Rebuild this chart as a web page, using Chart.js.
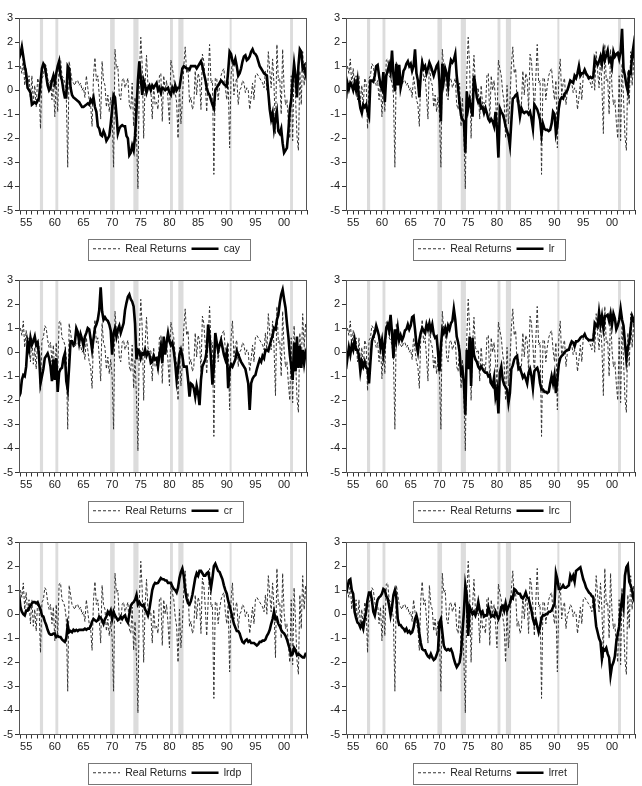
<!DOCTYPE html>
<html>
<head>
<meta charset="utf-8">
<script src="https://cdn.jsdelivr.net/npm/chart.js@4.4.0/dist/chart.umd.min.js"></script>
<style>
  html, body { margin: 0; padding: 0; background: #fff; }
  #wrap { position: relative; width: 642px; height: 786px; }
  .panel { position: absolute; width: 321px; height: 262px; }
</style>
</head>
<body>
<div id="wrap">
  <div class="panel" style="left:0;top:0"><canvas id="c1" width="321" height="262"></canvas></div>
  <div class="panel" style="left:321px;top:0"><canvas id="c2" width="321" height="262"></canvas></div>
  <div class="panel" style="left:0;top:262px"><canvas id="c3" width="321" height="262"></canvas></div>
  <div class="panel" style="left:321px;top:262px"><canvas id="c4" width="321" height="262"></canvas></div>
  <div class="panel" style="left:0;top:524px"><canvas id="c5" width="321" height="262"></canvas></div>
  <div class="panel" style="left:321px;top:524px"><canvas id="c6" width="321" height="262"></canvas></div>
</div>
<script>
// quarterly observations, first one is 1953Q4, last one 2004Q1
const START = 1953.75;

const realReturns = [0.8,
  1.0, 0.7, 1.3, 0.2,  0.9, 0.1, 0.6, -0.4,  0.6, -0.5, 0.2, -0.7,  0.5, 0.3, -1.6, 0.5,
  0.6, 1.1, 1.0, 0.5,  0.2, 0.4, -0.4, 0.3,  -1.1, 0.4, -0.9, 1.25,  1.3, 0.6, 0.5, 0.3,
  -0.2, -3.2, 1.2, 0.8,  0.4, 0.3, 0.2, 0.4,  0.4, 0.2, 0.3, 0.0,  0.1, -0.3, 0.6, 0.1,
  -0.4, -0.6, -1.5, 0.6,  1.35, 0.4, 0.6, -0.2,  -1.2, 1.2, 0.4, 0.2,  -0.7, -0.2, -0.9, -0.3,
  -1.0, -3.2, 1.7, 0.9,  1.0, -0.2, -0.4, 0.4,  0.5, 0.1, 0.3, 0.5,  -0.6, -0.8, 0.3, -1.5,
  -0.3, -1.9, -4.1, 0.6,  2.2, 1.0, -2.0, 0.3,  1.45, 0.2, 0.0, 0.1,  -1.2, 0.2, -0.6, -0.5,
  -0.8, 0.6, 0.7, -1.3,  0.6, 0.0, 0.4, -0.4,  -1.4, 1.25, 0.9, 0.6,  -0.1, -0.5, -2.0, 0.2,
  -1.4, -0.5, 1.0, 1.8,  0.7, 0.9, -0.5, -0.3,  -0.8, -0.6, 0.8, -0.2,  0.7, 0.5, -0.8, 1.5,
  1.2, 0.3, -0.9, 0.5,  1.9, 0.3, 0.4, -3.5,  0.5, 0.5, -0.4, 0.2,  0.6, 0.8, 0.9, 0.1,
  -0.4, 0.4, -2.4, 0.6,  1.3, -0.2, 0.3, 0.5,  -0.6, 0.0, 0.1, 0.4,  0.3, -0.1, 0.1, 0.0,
  -0.8, -0.3, 0.3, -0.4,  0.6, 0.7, 0.6, 0.5,  0.4, 0.3, 0.1, 0.8,  0.0, 1.6, 0.8, 0.1,
  1.3, 0.2, -1.8, 1.9,  0.4, 0.5, -1.0, 1.7,  0.1, -0.6, -0.4, -1.3,  -2.0, 0.6, -2.1, 1.1,
  -0.3, -1.9, -2.5, 0.8,  -0.6, 1.6, 0.2, 1.2,
  0.1];

const cay = [1.3,
  1.5, 1.8, 1.4, 1.0,  0.7, 0.1, 0.0, -0.1,  -0.6, -0.55, -0.5, -0.55,  -0.45, -0.3, 0.3, 0.9,
  1.1, 1.0, 0.6, 0.2,  0.0, 0.1, 0.4, 0.6,  0.3, 0.7, 1.0, 1.2,  0.6, 0.4, 0.0, -0.3,
  -0.3, 1.0, 0.9, 0.1,  -0.2, -0.3, -0.35, -0.4,  -0.45, -0.5, -0.6, -0.7,  -0.7, -0.65, -0.6, -0.55,
  -0.6, -0.4, -0.5, -0.3,  -0.7, -0.9, -1.5, -1.6,  -1.85, -1.9, -1.7, -1.85,  -2.1, -2.0, -1.9, -1.4,
  -0.8, -0.2, -0.3, -1.0,  -1.8, -1.6, -1.5, -1.45,  -1.5, -1.5, -1.9, -2.0,  -2.7, -2.6, -2.3, -2.5,
  -1.9, -0.8, 0.4, 1.2,  0.5, -0.2, 0.4, 0.2,  -0.1, 0.1, 0.2, 0.0,  0.2, 0.1, 0.2, 0.3,
  0.0, 0.1, -0.1, 0.1,  0.05, 0.0, 0.05, 0.1,  -0.1, -0.2, 0.1, -0.05,  0.2, 0.0, 0.1, 0.1,
  0.5, 0.9, 1.0, 0.95,  0.9, 0.9, 0.85, 1.0,  1.0, 1.0, 1.0, 0.9,  1.0, 1.1, 1.2, 1.0,
  0.7, 0.45, 0.1, -0.1,  -0.2, -0.4, -0.6, -0.75,  0.0, 0.1, 0.2, 0.3,  0.4, 0.35, 0.25, 0.2,
  0.15, 0.8, 1.6, 1.5,  1.2, 1.1, 1.3, 1.0,  0.6, 0.7, 0.9, 1.2,  1.4, 1.45, 1.25, 1.3,
  1.4, 1.6, 1.7, 1.55,  1.5, 1.4, 1.2, 1.0,  0.9, 0.8, 0.7, 0.65,  0.6, -0.1, -0.8, -1.2,
  -0.95, -1.6, -1.2, -0.9,  -1.7, -1.8, -1.6, -2.2,  -2.6, -2.5, -2.4, -1.7,  -0.8, -0.4, 0.4, 1.1,
  0.6, -0.3, 1.0, 1.7,  1.6, 0.9, 1.0, 0.7,
  0.4];

const lr = [-0.35,
  0.3, 0.05, 0.3, 0.2,  0.0, 0.3, 0.0, 0.4,  -0.35, -0.75, -0.95, -0.6,  -0.7, -0.6, -0.9, -1.1,
  0.4, 0.4, 0.35, 0.6,  1.0, 1.05, 0.6, 0.2,  0.05, 0.75, -0.5, 0.6,  0.8, 1.05, 0.75, 1.65,
  0.6, -0.05, 1.1, 0.2,  1.05, 0.1, 0.4, 0.8,  0.9, 1.1, 1.2, 1.0,  1.1, 0.8, 1.0, 1.7,
  0.7, 0.4, -0.3, 0.6,  1.15, 0.9, 1.0, 0.7,  0.9, 1.15, 1.0, 0.8,  0.6, 0.8, 1.0, 1.1,
  0.35, -1.3, 1.1, 0.4,  0.9, 0.7, 0.2, 0.9,  1.25, 1.15, 1.25, 1.5,  0.6, 0.05, -0.55, -1.05,
  -1.2, -1.3, -2.6, -0.05,  -0.75, -0.4, -0.7, -1.1,  0.6, 0.2, -0.3, -0.5,  -0.4, -0.75, -0.7, -0.95,
  -0.75, -0.95, -1.2, -1.3,  -1.2, -1.3, -1.5, -0.9,  -1.6, -2.8, -0.75, -0.9,  -1.0, -1.2, -1.5, -1.7,
  -1.9, -2.3, -1.3, -0.35,  -0.3, -0.2, -0.15, -0.6,  -1.1, -0.75, -0.9, -0.95,  -0.9, -0.9, -1.0, -0.9,
  -1.2, -1.6, -0.6, -0.7,  -0.8, -1.0, -1.25, -1.85,  -1.4, -1.6, -1.65, -1.65,  -1.7, -1.65, -1.4, -0.9,
  -1.0, -1.8, -1.5, -0.75,  -0.4, -0.3, -0.35, -0.15,  -0.1, 0.0, 0.2, 0.4,  0.35, 0.3, 0.6, 0.5,
  0.7, 1.0, 0.6, 0.7,  0.7, 0.85, 0.7, 0.6,  0.5, 0.55, 0.5, 0.55,  1.3, 1.15, 1.05, 1.2,
  1.4, 1.1, 1.6, 1.25,  1.45, 1.65, 1.2, 1.3,  1.0, 1.6, 1.4, 1.5,  1.55, 1.3, 1.6, 2.55,
  0.9, 0.6, 0.2, -0.05,  0.75, 0.7, 1.45, 1.85,
  1.2];

const cr = [-1.85,
  -1.7, -1.15, -0.95, -1.0,  -0.6, 0.4, 0.1, 0.6,  0.3, 0.45, 0.65, 0.3,  0.4, -0.15, -1.3, -1.0,
  -0.7, -0.25, -0.15, -0.05,  -0.25, -0.6, -1.2, -0.3,  -1.15, -0.25, -1.65, -0.85,  -0.7, -0.65, -0.25, -0.05,
  -1.2, -1.55, -0.6, 0.45,  0.45, 0.3, 0.4, 1.0,  0.85, 0.4, 0.75, 0.55,  0.25, 0.65, 0.8, 1.0,
  0.95, 0.55, 0.1, 0.55,  1.0, 1.15, 1.35, 1.75,  2.7, 1.7, 1.35, 1.45,  1.35, 1.3, 1.15, 0.9,
  -0.1, 0.8, 1.0, 0.65,  0.95, 1.1, 0.8, 1.0,  1.2, 1.75, 2.05, 2.3,  2.4, 2.2, 2.1, 1.9,
  1.2, -0.3, 0.1, 0.05,  -0.25, -0.05, -0.1, 0.1,  -0.15, 0.0, -0.1, -0.45,  -0.4, -0.15, -0.3, -0.25,
  -0.6, -0.1, 0.25, -0.45,  0.65, -0.1, 0.4, 0.8,  0.45, 0.3, 0.4, 0.05,  -0.45, -1.15, -0.7, -0.1,
  0.1, -0.15, -0.6, -0.6,  -0.6, -1.15, -1.85, -1.3,  -1.35, -1.5, -1.85, -1.4,  -1.7, -2.2, -1.15, -0.6,
  -0.45, -0.3, 0.05, 1.15,  0.65, -0.3, -1.35, -0.6,  0.8, 0.4, 0.05, 0.3,  0.5, 0.2, -0.1, -0.3,
  0.0, -1.5, -0.7, -0.5,  -0.6, -0.45, -0.3, 0.05,  -0.1, -0.25, -0.4, -0.5,  -0.6, -0.7, -1.0, -1.3,
  -2.4, -1.3, -1.1, -1.0,  -0.95, -0.7, -0.5, -0.3,  -0.4, -0.15, -0.25, 0.1,  0.1, 0.05, 0.3, 0.5,
  0.7, 1.0, 0.95, 1.35,  1.55, 2.05, 2.4, 2.6,  2.2, 1.85, 1.2, 0.65,  -0.1, -0.6, -1.15, 0.4,
  -0.8, 0.65, -0.65, 0.25,  -0.65, 0.1, -0.45, 0.0,
  -0.15];

const lrc = [-0.7,
  -0.25, 0.2, -0.1, 0.3,  0.1, 0.5, 0.1, 0.1,  -0.15, -0.8, -0.4, -0.6,  -0.4, -0.65, -0.7, -1.3,
  -0.4, 0.45, 0.65, 0.8,  1.1, 0.9, 0.65, 0.2,  0.5, -0.1, 0.35, 1.0,  1.15, 0.9, 1.55, 0.8,
  -0.25, 0.95, 0.5, 1.0,  0.5, 0.7, 0.5, 0.65,  0.9, 0.95, 1.15, 0.95,  1.1, 1.45, 1.5, 0.95,
  0.3, 0.0, 0.5, 0.8,  1.0, 0.9, 0.8, 1.15,  0.95, 1.2, 0.9, 1.15,  0.75, 0.6, 0.65, 0.0,
  -0.8, 0.25, 0.95, 0.8,  1.0, 0.75, 1.1, 0.95,  1.2, 1.3, 1.8, 1.35,  0.65, 0.4, 0.0, -0.85,
  -0.7, -1.3, -2.6, 0.1,  -0.7, 0.65, -1.4, 0.6,  -0.1, -0.3, -0.4, -0.6,  -0.7, -0.6, -0.7, -0.8,
  -0.85, -0.85, -1.0, -0.95,  -1.3, -1.4, -1.05, -1.85,  -1.55, -2.55, -0.85, -0.6,  -1.15, -1.35, -1.45, -1.55,
  -2.1, -1.7, -0.7, -0.55,  -0.3, -0.2, -0.15, -0.7,  -0.65, -0.85, -1.05, -0.95,  -1.1, -1.3, -0.85, -0.7,
  -1.0, -1.5, -0.8, -0.7,  -0.65, -0.85, -1.3, -1.55,  -1.55, -1.65, -1.65, -1.7,  -1.65, -1.3, -1.0, -1.3,
  -0.95, -1.7, -1.15, -0.5,  -0.25, -0.15, -0.1, 0.0,  0.05, 0.1, 0.1, 0.3,  0.45, 0.4, 0.25, 0.45,
  0.45, 0.5, 0.6, 0.65,  0.65, 0.75, 0.6, 0.55,  0.5, 0.5, 0.5, 0.5,  1.2, 1.1, 1.05, 1.65,
  1.15, 1.5, 1.0, 1.5,  1.5, 1.55, 1.3, 1.6,  1.15, 1.6, 1.4, 0.95,  1.1, 1.35, 1.8, 1.35,
  1.1, 0.4, -0.3, 0.2,  0.4, 1.0, 1.5, 1.35,
  1.15];

const lrdp = [0.85,
  0.3, 0.1, 0.0, -0.05,  0.15, 0.15, 0.25, 0.35,  0.45, 0.5, 0.5, 0.45,  0.5, 0.35, 0.2, -0.05,
  -0.1, -0.3, -0.45, -0.65,  -0.8, -0.85, -0.85, -0.8,  -0.8, -0.95, -0.9, -0.95,  -0.95, -1.05, -1.1, -1.15,
  -1.0, -0.45, -0.75, -0.7,  -0.75, -0.65, -0.7, -0.65,  -0.7, -0.65, -0.65, -0.65,  -0.65, -0.6, -0.65, -0.6,
  -0.6, -0.5, -0.3, -0.2,  -0.25, -0.3, -0.25, -0.1,  -0.15, -0.25, -0.4, -0.2,  -0.1, 0.1, 0.0, 0.15,
  -0.2, 0.1, -0.05, -0.15,  -0.25, -0.2, -0.1, -0.2,  -0.1, -0.05, -0.25, -0.35,  0.0, 0.35, 0.45, 0.5,
  0.6, 0.8, 0.4, 0.5,  0.4, 0.35, 0.4, 0.2,  0.1, -0.05, 0.2, 0.6,  1.0, 1.2, 1.3, 1.28,
  1.3, 1.4, 1.5, 1.45,  1.45, 1.4, 1.4, 1.3,  1.3, 1.3, 1.15, 1.05,  1.0, 0.9, 1.1, 1.5,
  1.75, 1.9, 1.6, 1.0,  0.65, 0.45, 0.4, 0.55,  0.8, 1.15, 1.5, 1.7,  1.6, 1.8, 1.8, 1.7,
  1.6, 1.6, 1.7, 1.75,  1.45, 1.1, 1.5, 2.0,  2.1, 1.95, 1.8, 1.75,  1.6, 1.45, 1.2, 1.0,
  0.85, 0.55, 0.35, 0.1,  -0.15, -0.4, -0.55, -0.7,  -0.7, -0.8, -1.0, -1.15,  -1.2, -1.1, -1.05, -1.15,
  -1.1, -1.2, -1.2, -1.2,  -1.25, -1.3, -1.25, -1.15,  -1.15, -1.1, -1.1, -1.05,  -0.9, -0.8, -0.65, -0.4,
  -0.2, 0.1, -0.2, -0.15,  -0.4, -0.5, -0.65, -0.75,  -0.8, -0.9, -1.05, -1.25,  -1.45, -1.7, -1.65, -1.4,
  -1.5, -1.7, -1.65, -1.7,  -1.75, -1.8, -1.8, -1.65,
  -1.65];

const lrret = [0.85,
  1.1, 1.4, 1.45, 1.0,  0.85, 0.1, -0.15, -0.35,  -0.4, -0.55, -0.4, -0.6,  -0.2, 0.1, 0.6, 0.9,
  0.9, 0.6, 0.1, -0.05,  0.3, 0.6, 0.7, 0.75,  0.85, 1.05, 1.0, 0.75,  0.65, 0.35, -0.05, 0.3,
  0.8, 1.0, 0.7, -0.2,  -0.45, -0.45, -0.55, -0.6,  -0.7, -0.6, -0.75, -0.7,  -0.8, -0.75, -0.55, -0.2,
  -0.05, -0.3, -0.8, -1.2,  -1.45, -1.5, -1.5, -1.65,  -1.75, -1.8, -1.65, -1.8,  -1.9, -1.85, -1.7, -1.5,
  -0.35, -0.2, -0.75, -1.3,  -1.45, -1.5, -1.45, -1.5,  -1.45, -1.6, -1.85, -2.05,  -2.2, -2.1, -2.0, -1.6,
  -0.75, 0.1, 1.2, 0.8,  -0.9, 0.3, 0.15, 0.0,  0.1, -0.05, 0.15, 0.5,  0.15, 0.0, 0.1, -0.1,
  -0.05, -0.05, 0.3, 0.1,  -0.1, -0.05, -0.1, 0.1,  -0.05, -0.2, -0.05, 0.3,  0.35, 0.15, 0.45, 0.15,
  0.3, 0.45, 0.7, 0.65,  1.05, 1.0, 0.9, 0.85,  0.85, 0.7, 0.65, 0.75,  0.9, 0.7, 0.65, 0.4,
  0.15, -0.2, -0.4, -0.25,  -0.5, -0.75, -0.5, -0.15,  -0.05, -0.05, 0.0, 0.0,  0.1, 0.1, 0.15, 0.3,
  0.4, 1.7, 1.45, 1.05,  1.05, 1.1, 1.2, 1.1,  1.1, 1.15, 1.2, 1.6,  1.45, 1.6, 1.35, 1.8,
  1.85, 1.9, 1.95, 1.7,  1.45, 1.3, 1.1, 1.0,  0.9, 0.85, 0.75, 0.7,  0.1, -0.5, -0.75, -1.0,
  -1.15, -1.85, -1.45, -1.5,  -1.4, -1.65, -1.8, -2.55,  -2.15, -2.0, -1.75, -1.15,  -0.8, -0.5, 0.2, 0.65,
  0.3, 1.6, 1.95, 2.05,  1.35, 1.2, 1.0, 0.65,
  0.5];

// shaded recession periods
const recessions = [
  [1957.4, 1957.95], [1960.1, 1960.6], [1969.65, 1970.45], [1973.7, 1974.6],
  [1980.1, 1980.6], [1981.55, 1982.45], [1990.5, 1990.85], [2001.05, 2001.55]
];
const labelYears = [1955, 1960, 1965, 1970, 1975, 1980, 1985, 1990, 1995, 2000];

const quarters = realReturns.map((_, i) => START + i * 0.25);

const panels = [
  { id: 'c1', name: 'cay', values: cay, col: 0 },
  { id: 'c2', name: 'lr', values: lr, col: 1 },
  { id: 'c3', name: 'cr', values: cr, col: 0 },
  { id: 'c4', name: 'lrc', values: lrc, col: 1 },
  { id: 'c5', name: 'lrdp', values: lrdp, col: 0 },
  { id: 'c6', name: 'lrret', values: lrret, col: 1 }
];

const font = { family: 'Arial, "Liberation Sans", sans-serif', size: 11 };
const legendFont = { family: 'Arial, "Liberation Sans", sans-serif', size: 10.5 };
const ink = '#222';

function makePlugin(dx, dy) {
  return {
    id: 'frameBands',
    afterLayout(chart) {
      const lg = chart.legend;
      lg.left += dx; lg.right += dx;
      lg.top += dy; lg.bottom += dy;
    },
    beforeDatasetsDraw(chart) {
      const { ctx, chartArea: a, scales: { x } } = chart;
      ctx.save();
      ctx.fillStyle = '#dcdcdc';
      recessions.forEach(([s, e]) => {
        const x0 = x.getPixelForValue(s);
        const x1 = x.getPixelForValue(e);
        ctx.fillRect(x0, a.top, x1 - x0, a.bottom - a.top);
      });
      ctx.restore();
    },
    afterDraw(chart) {
      const { ctx, chartArea: a } = chart;
      ctx.save();
      ctx.strokeStyle = '#555';
      ctx.lineWidth = 1;
      ctx.strokeRect(Math.round(a.left) + 0.5, Math.round(a.top) + 0.5,
        Math.round(a.right - a.left) - 1, Math.round(a.bottom - a.top) - 1);
      // frame around the legend
      const hb = chart.legend.legendHitBoxes;
      const l = Math.min(...hb.map(h => h.left)) - 5;
      const r = Math.max(...hb.map(h => h.left + h.width)) + 10;
      const t = Math.min(...hb.map(h => h.top)) - 5;
      const b = Math.max(...hb.map(h => h.top + h.height)) + 5;
      ctx.strokeStyle = '#777';
      ctx.strokeRect(Math.round(l) + 0.5, Math.round(t) + 0.5, Math.round(r - l), Math.round(b - t));
      ctx.restore();
    }
  };
}

// legend samples take their dash and width from the line, not from the points
function legendLabels(chart) {
  const items = Chart.defaults.plugins.legend.labels.generateLabels(chart);
  items.forEach(it => {
    const ds = chart.data.datasets[it.datasetIndex];
    it.lineDash = ds.borderDash || [];
    it.lineWidth = ds.borderWidth;
    it.strokeStyle = ds.borderColor;
    it.pointStyle = 'line';
  });
  return items;
}

panels.forEach(p => {
  const yWidth = p.col === 0 ? 19 : 25;
  const padRight = p.col === 0 ? 14 : 7;
  new Chart(document.getElementById(p.id), {
    type: 'line',
    data: {
      labels: quarters,
      datasets: [
        {
          label: 'Real Returns',
          data: realReturns,
          borderColor: '#333',
          borderWidth: 1,
          borderDash: [3, 2],
          pointRadius: 0,
          tension: 0,
          order: 1
        },
        {
          label: p.name,
          data: p.values,
          borderColor: '#000',
          borderWidth: 2.6,
          pointRadius: 0,
          tension: 0,
          order: 0
        }
      ]
    },
    options: {
      responsive: false,
      animation: false,
      devicePixelRatio: 1,
      events: [],
      layout: { padding: { top: 18, right: padRight, left: 0, bottom: 0 } },
      scales: {
        x: {
          type: 'linear',
          min: 1953.75,
          max: 2004.0,
          border: { display: true, color: '#333' },
          grid: { drawOnChartArea: false, drawTicks: true, tickLength: 4, color: '#333' },
          ticks: {
            stepSize: 1,
            autoSkip: false,
            maxRotation: 0,
            includeBounds: false,
            padding: 2,
            font: font,
            color: ink,
            callback: v => labelYears.includes(v) ? String(v % 100).padStart(2, '0') : ''
          },
          afterFit: s => { s.height = 26; }
        },
        y: {
          min: -5,
          max: 3,
          border: { display: true, color: '#333' },
          grid: { drawOnChartArea: false, drawTicks: true, tickLength: 4, color: '#333' },
          ticks: { stepSize: 1, padding: 2, font: font, color: ink },
          afterFit: s => { s.width = yWidth; }
        }
      },
      plugins: {
        tooltip: { enabled: false },
        legend: {
          position: 'bottom',
          align: 'start',
          labels: {
            usePointStyle: true,
            pointStyle: 'line',
            pointStyleWidth: 27,
            padding: 5,
            font: legendFont,
            color: ink,
            generateLabels: legendLabels,
            sort: (a, b) => a.datasetIndex - b.datasetIndex
          }
        }
      }
    },
    plugins: [makePlugin(p.col === 0 ? 88 : 92, 2)]
  });
});
</script>
</body>
</html>
